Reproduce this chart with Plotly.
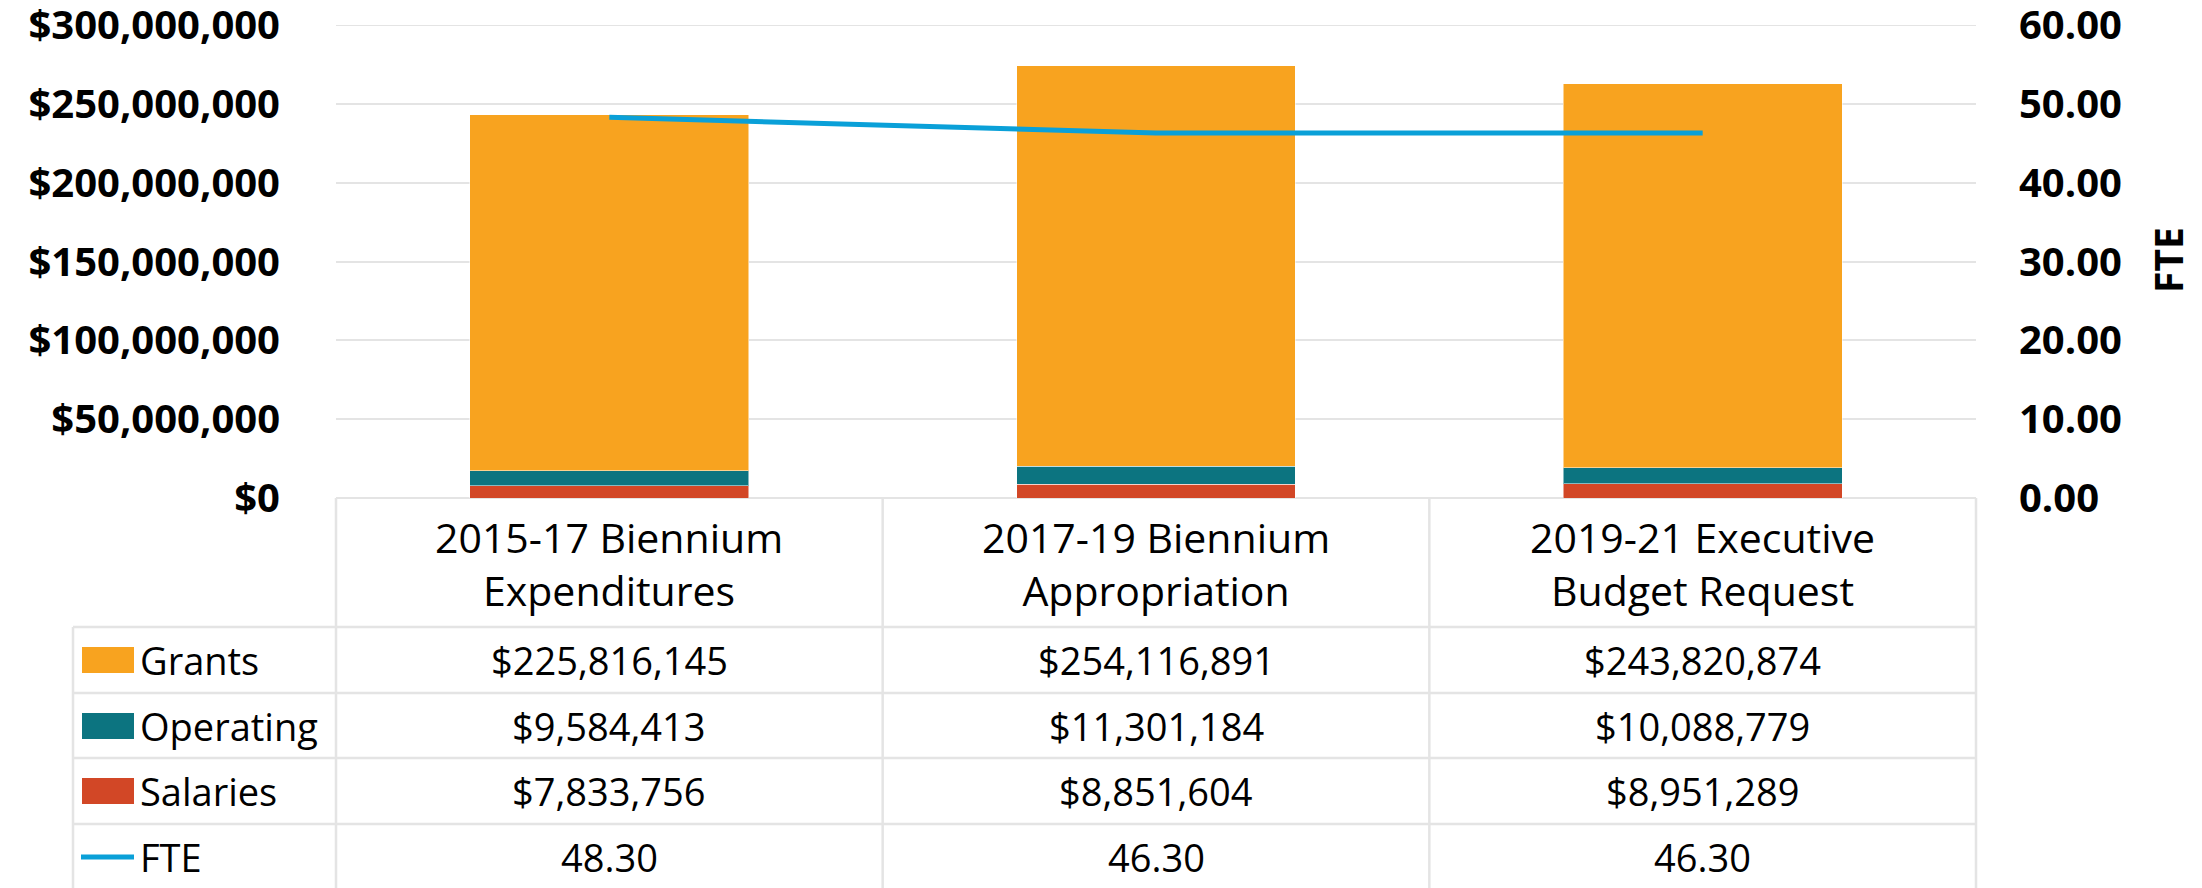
import plotly.graph_objects as go

categories = ["2015-17 Biennium<br>Expenditures", "2017-19 Biennium<br>Appropriation",
              "2019-21 Executive<br>Budget Request"]
grants = [225816145, 254116891, 243820874]
operating = [9584413, 11301184, 10088779]
salaries = [7833756, 8851604, 8951289]
fte = [48.30, 46.30, 46.30]
money_ticks = [0, 50000000, 100000000, 150000000, 200000000, 250000000, 300000000]
fte_ticks = [0, 10, 20, 30, 40, 50, 60]

c_grants = "#F8A31F"
c_oper = "#0C7480"
c_sal = "#D24726"
c_fte = "#0AA0D8"
grid = "#E4E4E4"
font = "Open Sans"

W, H = 2202, 888
# the page body adds an 8px margin, so screen positions are shifted by OFF
OFF = 8
L, R, T, B = 336 - OFF, 1976 - OFF, 25 - OFF, 498 - OFF


def px(x):
    return (x - OFF - L) / (R - L)


def py(y):
    return (B - (y - OFF)) / (B - T)


fig = go.Figure()
for name, vals, col in [("Salaries", salaries, c_sal), ("Operating", operating, c_oper),
                        ("Grants", grants, c_grants)]:
    fig.add_trace(go.Bar(x=categories, y=vals, name=name, marker_color=col,
                         marker_line=dict(color="rgba(255,255,255,0.5)", width=1)))
fig.add_trace(go.Scatter(x=categories, y=fte, name="FTE", yaxis="y2", mode="lines",
                         line=dict(color=c_fte, width=5)))

shapes = []
annotations = []

# top gridline (plotly drops the one sitting on the plot edge)
shapes.append(dict(type="line", xref="paper", yref="y", x0=0, x1=1,
                   y0=money_ticks[-1], y1=money_ticks[-1], layer="below",
                   line=dict(color=grid, width=2)))

# table grid (screen pixel positions)
for y in [627, 693, 758, 824]:
    shapes.append(dict(type="line", xref="paper", yref="paper", x0=px(73), x1=px(1976),
                       y0=py(y), y1=py(y), line=dict(color=grid, width=2.5)))
col_w = (1976 - 336) / 3
for i in range(4):
    x = 336 + i * col_w
    shapes.append(dict(type="line", xref="paper", yref="paper", x0=px(x), x1=px(x),
                       y0=py(498), y1=py(H + 20), line=dict(color=grid, width=2.5)))
shapes.append(dict(type="line", xref="paper", yref="paper", x0=px(73), x1=px(73),
                   y0=py(627), y1=py(H + 20), line=dict(color=grid, width=2.5)))

# header row
for c in categories:
    annotations.append(dict(x=c, xref="x", y=py(563), yref="paper", text=c, showarrow=False,
                            font=dict(family=font, size=41, color="black"),
                            xanchor="center", yanchor="middle"))

row_centers = [660, 726, 791, 857]
rows = [("Grants", grants, c_grants), ("Operating", operating, c_oper),
        ("Salaries", salaries, c_sal), ("FTE", fte, c_fte)]
for (name, vals, col), yc in zip(rows, row_centers):
    if name == "FTE":
        shapes.append(dict(type="line", xref="paper", yref="paper", x0=px(81), x1=px(134),
                           y0=py(yc), y1=py(yc), line=dict(color=col, width=5)))
        txt = ["%.2f" % v for v in vals]
    else:
        shapes.append(dict(type="rect", xref="paper", yref="paper", x0=px(82), x1=px(134),
                           y0=py(yc - 13), y1=py(yc + 13), fillcolor=col, line=dict(width=0)))
        txt = ["${:,}".format(v) for v in vals]
    annotations.append(dict(x=px(138), xref="paper", y=py(yc), yref="paper", text=name,
                            showarrow=False, xanchor="left", yanchor="middle",
                            font=dict(family=font, size=38, color="black")))
    for c, t in zip(categories, txt):
        annotations.append(dict(x=c, xref="x", y=py(yc), yref="paper", text=t, showarrow=False,
                                xanchor="center", yanchor="middle",
                                font=dict(family=font, size=38, color="black")))

annotations.append(dict(x=px(2168), xref="paper", y=py(260), yref="paper", text="<b>FTE</b>",
                        textangle=-90, showarrow=False, xanchor="center", yanchor="middle",
                        font=dict(family=font, size=39, color="black")))

fig.update_layout(
    width=W, height=H,
    margin=dict(l=L, r=W - R, t=T, b=H - B),
    barmode="stack", bargap=0.49,
    plot_bgcolor="white", paper_bgcolor="white",
    showlegend=False,
    font=dict(family=font, color="black"),
    xaxis=dict(showticklabels=False, showgrid=False, showline=False, zeroline=False),
    yaxis=dict(range=[0, money_ticks[-1]], tickvals=money_ticks,
               ticktext=["${:,}".format(v) for v in money_ticks],
               showgrid=True, gridcolor=grid, gridwidth=2, zeroline=True,
               zerolinecolor=grid, zerolinewidth=2, ticks="", ticklabelstandoff=55,
               automargin=False, ticklabeloverflow="allow",
               tickfont=dict(family=font, size=40, color="black", weight="bold")),
    yaxis2=dict(range=[0, fte_ticks[-1]], tickvals=fte_ticks,
                ticktext=["%.2f" % v for v in fte_ticks],
                overlaying="y", side="right",
                showgrid=False, zeroline=False, ticks="", ticklabelstandoff=42,
                automargin=False, ticklabeloverflow="allow",
                tickfont=dict(family=font, size=40, color="black", weight="bold")),
    shapes=shapes, annotations=annotations,
)

fig.write_html("out.html")
